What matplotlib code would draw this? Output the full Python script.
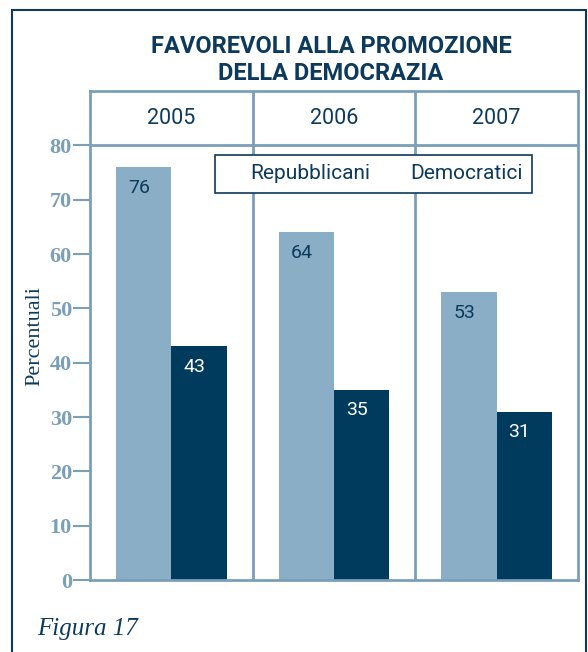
import matplotlib

matplotlib.use("Agg")
import matplotlib.pyplot as plt
from matplotlib.patches import Rectangle

years = ["2005", "2006", "2007"]
repubblicani = [76, 64, 53]
democratici = [43, 35, 31]
series_names = ["Repubblicani", "Democratici"]
y_ticks = [0, 10, 20, 30, 40, 50, 60, 70, 80]

NAVY = "#0d3a5c"
DARK = "#003a5c"
LIGHT = "#8aaec6"
AXIS = "#7a9fb8"
SANS = ["Roboto", "DejaVu Sans"]
SERIF = ["Liberation Serif", "DejaVu Serif"]

fig = plt.figure(figsize=(5.88, 6.52), dpi=100)
fig.patches.append(Rectangle((0.0204, -0.05), 0.976, 1.035, transform=fig.transFigure,
                             fill=False, edgecolor=NAVY, linewidth=1.5))

ax = fig.add_axes([0.153, 0.1104, 0.830, 0.750])
width = 0.34
xs = range(len(years))
rep_bars = ax.bar([x + 0.5 - width / 2 for x in xs], repubblicani, width=width, color=LIGHT)
dem_bars = ax.bar([x + 0.5 + width / 2 for x in xs], democratici, width=width, color=DARK)
for bar, value in zip(rep_bars, repubblicani):
    ax.text(bar.get_x() + bar.get_width() / 2 - 0.03, value - 3.8, str(value), ha="center", va="center",
            color=NAVY, fontsize=14, family=SANS)
for bar, value in zip(dem_bars, democratici):
    ax.text(bar.get_x() + bar.get_width() / 2 - 0.03, value - 3.8, str(value), ha="center", va="center",
            color="white", fontsize=14, family=SANS)

# year header band above the 80 line
for i, year in enumerate(years):
    ax.text(i + 0.5, 85, year, ha="center", va="center", color=NAVY, fontsize=15.5, family=SANS)
ax.axhline(80, color=AXIS, linewidth=2)
for x in (1, 2):
    ax.axvline(x, color=AXIS, linewidth=2)

# legend box: text only, as in the original
ax.add_patch(Rectangle((0.256, 0.792), 0.65, 0.078, transform=ax.transAxes, facecolor="white",
                       edgecolor=NAVY, linewidth=1.2, zorder=3))
for x, name in zip((0.328, 0.656), series_names):
    ax.text(x, 0.831, name, transform=ax.transAxes, ha="left", va="center", color=NAVY,
            fontsize=15, family=SANS, zorder=4)

ax.set_xlim(0, 3)
ax.set_ylim(0, 90)
ax.set_xticks([])
ax.set_yticks(y_ticks)
ax.set_yticklabels([str(t) for t in y_ticks], family=SERIF, fontsize=16, fontweight="bold", color=AXIS)
ax.tick_params(axis="y", length=12, width=1.5, color=AXIS, pad=1)
for spine in ax.spines.values():
    spine.set_color(AXIS)
    spine.set_linewidth(2)
ax.set_ylabel("Percentuali", family=SERIF, fontsize=16, color=NAVY, labelpad=4)

fig.text(0.563, 0.908, "FAVOREVOLI ALLA PROMOZIONE\nDELLA DEMOCRAZIA", ha="center", va="center",
         color=NAVY, fontsize=17, fontweight="bold", family=SANS, linespacing=1.2)
fig.text(0.063, 0.035, "Figura 17", ha="left", va="center", color=NAVY, fontsize=18,
         style="italic", family=SERIF)

fig.savefig("out.png", dpi=100)
